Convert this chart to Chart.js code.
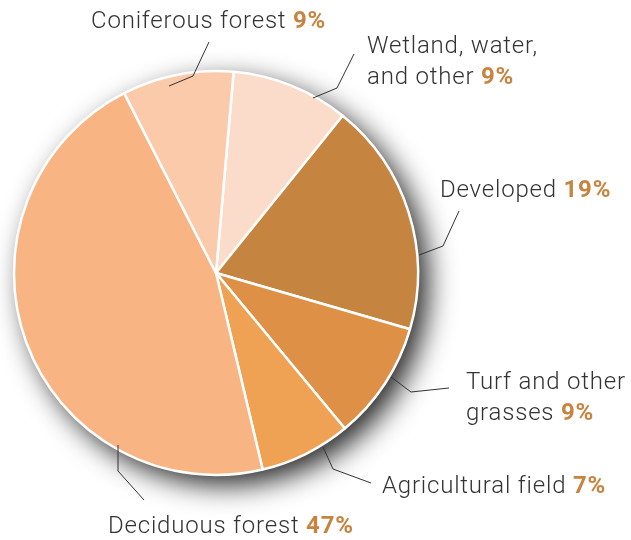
<!DOCTYPE html>
<html>
<head>
<meta charset="utf-8">
<script src="https://cdn.jsdelivr.net/npm/chart.js@4"></script>
<style>
  html, body { margin: 0; padding: 0; background: #fff; }
  #wrap { width: 631px; height: 540px; }
</style>
</head>
<body>
<div id="wrap"><canvas id="landChart" width="631" height="540"></canvas></div>
<script>
// land cover shares, clockwise from the top
const categories = ["Wetland, water, and other", "Developed", "Turf and other grasses", "Agricultural field", "Deciduous forest", "Coniferous forest"]
const shares = [9.4, 18.7, 9.5, 7.3, 46.2, 8.9]
const pctLabels = ["9%", "19%", "9%", "7%", "47%", "9%"]
const sliceColors = ["#FBDCCB", "#C5843F", "#DD9046", "#EFA253", "#F8B482", "#FACAAB"]

// label text lines, placement and leader lines (annotation layout only)
const labelLayout = [
    { lines: ["Wetland, water,", "and other"], x: 367, y: 53, leader: [[313, 98], [337, 88], [354, 54]] },
    { lines: ["Developed"], x: 440, y: 197, leader: [[419, 255], [443, 246], [459, 211]] },
    { lines: ["Turf and other", "grasses"], x: 466, y: 389, leader: [[391, 377], [411, 392], [449, 388]] },
    { lines: ["Agricultural field"], x: 382, y: 493, leader: [[323, 447], [333, 469], [371, 483]] },
    { lines: ["Deciduous forest"], x: 108, y: 533, leader: [[118, 445], [118, 471], [144, 500]] },
    { lines: ["Coniferous forest"], x: 91, y: 28, leader: [[169, 86], [193, 76], [209, 42]] }
]

const FONT = "Roboto, 'Liberation Sans', sans-serif"

// soft drop shadow under the pie
const pieShadow = {
    id: "pieShadow",
    beforeDatasetsDraw(chart) {
        const arc = chart.getDatasetMeta(0).data[0]
        if (!arc) return
        const ctx = chart.ctx
        ctx.save()
        ctx.shadowColor = "rgba(0,0,0,0.85)"
        ctx.shadowBlur = 28
        ctx.shadowOffsetX = 10
        ctx.shadowOffsetY = 10
        ctx.fillStyle = "#fff"
        ctx.beginPath()
        ctx.arc(arc.x, arc.y, arc.outerRadius, 0, Math.PI * 2)
        ctx.fill()
        ctx.restore()
    }
}

// text labels with bold percentages plus leader lines
const pieLabels = {
    id: "pieLabels",
    afterDraw(chart) {
        const ctx = chart.ctx
        ctx.save()
        labelLayout.forEach((lab, i) => {
            ctx.strokeStyle = "#333"
            ctx.lineWidth = 1
            ctx.beginPath()
            lab.leader.forEach((p, j) => j ? ctx.lineTo(p[0], p[1]) : ctx.moveTo(p[0], p[1]))
            ctx.stroke()

            ctx.textBaseline = "alphabetic"
            ctx.textAlign = "left"
            ctx.letterSpacing = "0.8px"
            lab.lines.forEach((line, j) => {
                const y = lab.y + j * 31
                ctx.font = "300 24px " + FONT
                ctx.fillStyle = "#333"
                ctx.fillText(line, lab.x, y)
                if (j == lab.lines.length - 1) {
                    const w = ctx.measureText(line + " ").width
                    ctx.font = "bold 24px " + FONT
                    ctx.fillStyle = "#C8843F"
                    ctx.fillText(pctLabels[i], lab.x + w, y)
                }
            })
        })
        ctx.restore()
    }
}

new Chart(document.getElementById("landChart"), {
    type: "pie",
    data: {
        labels: categories,
        datasets: [{
            data: shares,
            backgroundColor: sliceColors,
            borderColor: "#fff",
            borderWidth: 2.5
        }]
    },
    options: {
        responsive: false,
        animation: false,
        rotation: 5,
        radius: 202,
        layout: { padding: { left: 0, right: 199, top: 6, bottom: 0 } },
        plugins: {
            legend: { display: false },
            tooltip: { enabled: false }
        }
    },
    plugins: [pieShadow, pieLabels]
})
</script>
</body>
</html>
